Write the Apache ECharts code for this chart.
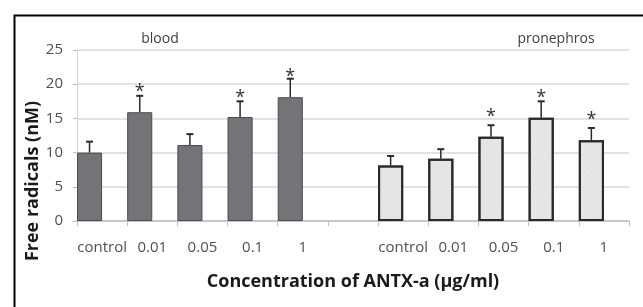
<!DOCTYPE html>
<html>
<head>
<meta charset="utf-8">
<script src="https://cdn.jsdelivr.net/npm/echarts@6/dist/echarts.min.js"></script>
<style>
html,body{margin:0;padding:0;background:#fff;}
#c{width:643px;height:307px;}
</style>
</head>
<body>
<div id="c"></div>
<script>
// ---- data ----
var categories = ['control','0.01','0.05','0.1','1','','control','0.01','0.05','0.1','1'];
var bloodMean = [10.0, 15.9, 11.1, 15.2, 18.1];
var bloodSD   = [1.6, 2.4, 1.6, 2.3, 2.7];
var bloodStar = [null, 19.4, null, 18.6, 21.7];
var pronMean  = [8.1, 9.1, 12.3, 15.1, 11.8];
var pronSD    = [1.4, 1.4, 1.7, 2.4, 1.8];
var pronStar  = [null, null, 15.8, 18.6, 15.3];
var yTicks = [0, 5, 10, 15, 20, 25];
var groupLabels = ['blood', 'pronephros'];

// ---- build ----
var nBlood = bloodMean.length;
var pronStart = nBlood + 1;
var bloodData = categories.map(function(c, i){ return i < nBlood ? bloodMean[i] : null; });
var pronData = categories.map(function(c, i){ return i >= pronStart ? pronMean[i - pronStart] : null; });
var emptyData = categories.map(function(){ return null; });
var errData = [], starData = [];
bloodMean.forEach(function(m, i){
  errData.push([i, m, m + bloodSD[i]]);
  if (bloodStar[i] != null) starData.push([i, bloodStar[i]]);
});
pronMean.forEach(function(m, i){
  errData.push([pronStart + i, m, m + pronSD[i]]);
  if (pronStar[i] != null) starData.push([pronStart + i, pronStar[i]]);
});

var font = "'Open Sans', sans-serif";
var chart = echarts.init(document.getElementById('c'), null, {renderer: 'canvas'});
chart.setOption({
  animation: false,
  backgroundColor: '#ffffff',
  grid: {left: 77, right: 14, top: 50, bottom: 86},
  xAxis: {
    type: 'category',
    data: categories,
    boundaryGap: true,
    axisLine: {lineStyle: {color: '#bfbfbf', width: 1.5}},
    axisTick: {show: true, length: 5, interval: 0, lineStyle: {color: '#bfbfbf'}},
    axisLabel: {interval: 0, margin: 19, fontSize: 15, color: '#505050', fontFamily: font},
    name: 'Concentration of ANTX-a (\u00b5g/ml)',
    nameLocation: 'middle',
    nameGap: 52,
    nameTextStyle: {fontSize: 18, fontWeight: 'bold', color: '#1a1a1a', fontFamily: font}
  },
  yAxis: {
    type: 'value',
    min: yTicks[0], max: yTicks[yTicks.length - 1], interval: yTicks[1] - yTicks[0],
    axisLine: {show: true, lineStyle: {color: '#d9d9d9', width: 1}},
    axisTick: {show: true, length: 4, lineStyle: {color: '#bfbfbf'}},
    axisLabel: {margin: 14, fontSize: 15, color: '#505050', fontFamily: font},
    splitLine: {lineStyle: {color: '#d9d9d9', width: 1.5}}
  },
  series: [
    {
      type: 'bar', name: 'blood', stack: 'g', data: bloodData,
      barGap: '0%', barCategoryGap: '0%',
      itemStyle: {color: '#747478', borderColor: '#4a4a4a', borderWidth: 1}
    },
    {
      type: 'bar', name: 'pronephros', stack: 'g', data: pronData,
      itemStyle: {
        color: '#e6e6e6', borderColor: '#2a2a2a', borderWidth: 2,
        decal: {symbol: 'circle', symbolSize: 0.5, color: 'rgba(150,150,150,0.35)', dashArrayX: [2, 3], dashArrayY: [2, 3], rotation: 0.5}
      }
    },
    {
      type: 'bar', name: 'pad', stack: 'h', data: emptyData
    },
    {
      type: 'custom', name: 'err', data: errData, z: 5,
      renderItem: function(params, api){
        var w = api.size([1, 0])[0];
        var c = api.coord([api.value(0), api.value(1)]);
        var t = api.coord([api.value(0), api.value(2)]);
        var x = c[0] - w / 4;
        return {
          type: 'group',
          children: [
            {type: 'line', shape: {x1: x, y1: c[1], x2: x, y2: t[1]}, style: {stroke: '#2a2a2a', lineWidth: 1.5}},
            {type: 'line', shape: {x1: x - 3.5, y1: t[1], x2: x + 3.5, y2: t[1]}, style: {stroke: '#2a2a2a', lineWidth: 2}}
          ]
        };
      }
    },
    {
      type: 'custom', name: 'stars', data: starData, z: 6,
      renderItem: function(params, api){
        var w = api.size([1, 0])[0];
        var p = api.coord([api.value(0), api.value(1)]);
        return {
          type: 'text',
          style: {text: '*', x: p[0] - w / 4, y: p[1] + 4, align: 'center', verticalAlign: 'middle',
                  fontSize: 18, fill: '#333333', fontFamily: font}
        };
      }
    }
  ],
  graphic: [
    {type: 'rect', left: 12, top: 13, shape: {x: 0, y: 0, width: 700, height: 400}, style: {fill: null, stroke: '#000', lineWidth: 2}, silent: true},
    {type: 'text', x: 160, y: 39, style: {text: groupLabels[0], align: 'center', verticalAlign: 'middle', fontSize: 14, fill: '#404040', fontFamily: font}},
    {type: 'text', x: 556, y: 39, style: {text: groupLabels[1], align: 'center', verticalAlign: 'middle', fontSize: 14, fill: '#404040', fontFamily: font}},
    {type: 'text', x: 33, y: 181, rotation: Math.PI / 2, style: {text: 'Free radicals (nM)', align: 'center', verticalAlign: 'middle', fontSize: 18, fontWeight: 'bold', fill: '#1a1a1a', fontFamily: font}}
  ]
});
</script>
</body>
</html>
